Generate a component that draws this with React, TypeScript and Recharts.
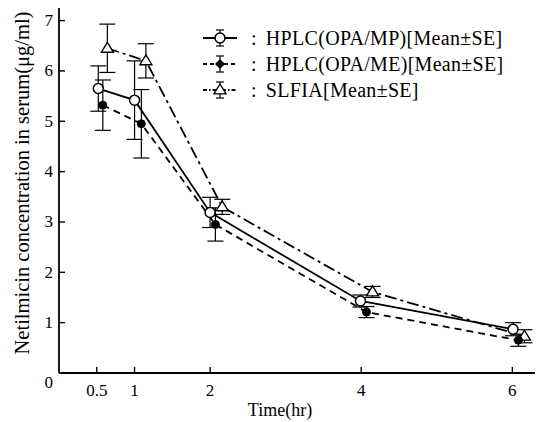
import { LineChart, Line, XAxis, YAxis, ErrorBar } from 'recharts';

// time points are slightly staggered in the original so error bars don't overlap
const mpTime = [0.52, 1.0, 2.0, 3.99, 6.01];
const mpConc = [5.65, 5.42, 3.19, 1.43, 0.87];
const mpSe = [0.45, 0.78, 0.3, 0.12, 0.13];

const meTime = [0.58, 1.09, 2.07, 4.07, 6.08];
const meConc = [5.32, 4.95, 2.95, 1.21, 0.65];
const meSe = [0.5, 0.68, 0.33, 0.11, 0.12];

const sfTime = [0.64, 1.15, 2.16, 4.15, 6.16];
const sfConc = [6.45, 6.2, 3.3, 1.61, 0.73];
const sfSe = [0.48, 0.34, 0.15, 0.11, 0.13];

const xTicks = [0.5, 1, 2, 4, 6];
const yTicks = [0, 1, 2, 3, 4, 5, 6, 7];

const legendItems = [
  { name: 'HPLC(OPA/MP)[Mean±SE]', dash: undefined, marker: 'open' },
  { name: 'HPLC(OPA/ME)[Mean±SE]', dash: '4 3', marker: 'diamond' },
  { name: 'SLFIA[Mean±SE]', dash: '4 2 1.5 2', marker: 'triangle' },
];

const build = (t: number[], c: number[], se: number[]) =>
  t.map((x, i) => ({ x, y: c[i], se: se[i] }));

const mpData = build(mpTime, mpConc, mpSe);
const meData = build(meTime, meConc, meSe);
const sfData = build(sfTime, sfConc, sfSe);

const FONT = 'Liberation Serif, Times New Roman, DejaVu Serif, serif';

const Marker = ({ kind, cx, cy }: { kind: string; cx: number; cy: number }) => {
  if (kind === 'open')
    return <circle cx={cx} cy={cy} r={5} fill="#fff" stroke="#000" strokeWidth={1.5} />;
  if (kind === 'filled') return <circle cx={cx} cy={cy} r={4} fill="#000" stroke="#000" />;
  if (kind === 'diamond')
    return <polygon points={`${cx},${cy - 5} ${cx + 5},${cy} ${cx},${cy + 5} ${cx - 5},${cy}`} fill="#000" />;
  const s = 6;
  return (
    <polygon
      points={`${cx},${cy - s} ${cx - s},${cy + s * 0.65} ${cx + s},${cy + s * 0.65}`}
      fill="#fff"
      stroke="#000"
      strokeWidth={1.4}
    />
  );
};

const dotFor = (kind: string) => (p: any) =>
  <Marker key={`${kind}-${p.index}`} kind={kind} cx={p.cx} cy={p.cy} />;

const YTick = (p: any) => (
  <text
    x={p.x}
    y={p.y + (p.payload.value === 0 ? 9 : 0)}
    textAnchor="end"
    dominantBaseline="central"
    style={{ fontFamily: FONT, fontSize: 17 }}
    fill="#000"
  >
    {p.payload.value}
  </text>
);

const XTick = (p: any) => (
  <text x={p.x} y={p.y} dy="0.71em" textAnchor="middle" style={{ fontFamily: FONT, fontSize: 17 }} fill="#000">
    {p.payload.value}
  </text>
);

const LegendSymbol = ({ dash, marker }: { dash?: string; marker: string }) => (
  <svg width={38} height={22} style={{ display: 'block' }}>
    <line x1={2} y1={11} x2={36} y2={11} stroke="#000" strokeWidth={2} strokeDasharray={dash} />
    <line x1={19} y1={3} x2={19} y2={19} stroke="#000" strokeWidth={1.2} />
    <line x1={15} y1={3} x2={23} y2={3} stroke="#000" strokeWidth={1.2} />
    <line x1={15} y1={19} x2={23} y2={19} stroke="#000" strokeWidth={1.2} />
    <Marker kind={marker} cx={19} cy={11} />
  </svg>
);

export default function App() {
  return (
    <div style={{ position: 'absolute', left: 0, top: 0, width: 539, height: 422, background: '#fff', fontFamily: FONT }}>
      <LineChart width={539} height={422} margin={{ top: 8, right: 4, bottom: 0, left: 0 }}>
        <XAxis
          type="number"
          dataKey="x"
          domain={[0, 6.3]}
          ticks={xTicks}
          height={49}
          tickSize={-6}
          tickMargin={17}
          tick={<XTick />}
          axisLine={{ stroke: '#000', strokeWidth: 1.8 }}
          tickLine={{ stroke: '#000', strokeWidth: 1.4 }}
          allowDataOverflow
        />
        <YAxis
          type="number"
          dataKey="y"
          domain={[0, 7.25]}
          ticks={yTicks}
          width={59}
          tickSize={-6}
          tickMargin={12}
          tick={<YTick />}
          axisLine={{ stroke: '#000', strokeWidth: 1.8 }}
          tickLine={{ stroke: '#000', strokeWidth: 1.4 }}
          allowDataOverflow
        />
        <Line
          data={sfData}
          dataKey="y"
          stroke="#000"
          strokeWidth={1.8}
          strokeDasharray="12 4 3 4"
          dot={dotFor('triangle')}
          isAnimationActive={false}
        >
          <ErrorBar dataKey="se" direction="y" width={8} stroke="#000" strokeWidth={1.2} />
        </Line>
        <Line
          data={meData}
          dataKey="y"
          stroke="#000"
          strokeWidth={1.8}
          strokeDasharray="7 5"
          dot={dotFor('filled')}
          isAnimationActive={false}
        >
          <ErrorBar dataKey="se" direction="y" width={8} stroke="#000" strokeWidth={1.2} />
        </Line>
        <Line
          data={mpData}
          dataKey="y"
          stroke="#000"
          strokeWidth={1.8}
          dot={dotFor('open')}
          isAnimationActive={false}
        >
          <ErrorBar dataKey="se" direction="y" width={8} stroke="#000" strokeWidth={1.2} />
        </Line>
      </LineChart>

      <div
        style={{
          position: 'absolute',
          left: 22,
          top: 183,
          transform: 'translate(-50%, -50%) rotate(-90deg)',
          whiteSpace: 'nowrap',
          fontSize: 20.5,
        }}
      >
        Netilmicin concentration in serum(μg/ml)
      </div>
      <div
        style={{
          position: 'absolute',
          left: 280,
          top: 410,
          transform: 'translate(-50%, -50%)',
          whiteSpace: 'nowrap',
          fontSize: 18,
        }}
      >
        Time(hr)
      </div>

      <div style={{ position: 'absolute', left: 201, top: 25, fontSize: 20, letterSpacing: 0.3 }}>
        {legendItems.map((it) => (
          <div key={it.name} style={{ display: 'flex', alignItems: 'center', height: 26 }}>
            <LegendSymbol dash={it.dash} marker={it.marker} />
            <span style={{ marginLeft: 12, marginRight: 9 }}>:</span>
            <span>{it.name}</span>
          </div>
        ))}
      </div>
    </div>
  );
}
